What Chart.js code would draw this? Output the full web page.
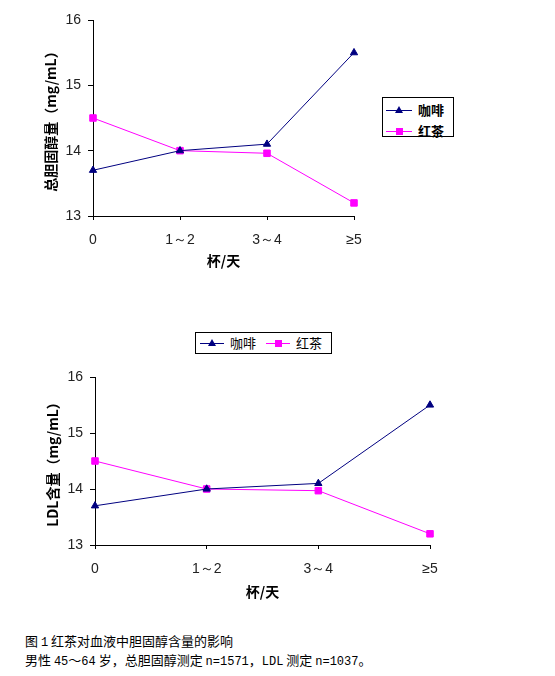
<!DOCTYPE html>
<html><head><meta charset="utf-8">
<script src="https://cdn.jsdelivr.net/npm/chart.js@4/dist/chart.umd.min.js"></script>
<style>
body{margin:0;background:#fff;width:555px;height:676px;position:relative;overflow:hidden;font-family:"Noto Sans CJK SC",sans-serif;color:#000;}
.abs{position:absolute;}
.legend{position:absolute;border:1px solid #000;background:#fff;box-sizing:border-box;}
.item{position:absolute;height:14px;}
.ln{position:absolute;height:1px;top:7px;}
.tri{position:absolute;width:0;height:0;border-left:4px solid transparent;border-right:4px solid transparent;border-bottom:7px solid #000080;}
.sq{position:absolute;width:7px;height:7px;background:#ff00ff;}
.lt{position:absolute;font-size:13px;line-height:14px;white-space:nowrap;}
.cap{position:absolute;left:25px;font-size:13px;line-height:16px;white-space:nowrap;}
.m{font-family:"Liberation Mono",monospace;font-size:12px;}
</style></head><body>
<div class="abs" style="left:0;top:0;width:380px;height:280px"><canvas id="chart1"></canvas></div>
<div class="abs" style="left:0;top:355px;width:460px;height:256px"><canvas id="chart2"></canvas></div>

<div class="legend" id="leg1" style="left:382px;top:97px;width:72px;height:40px;"></div>
<div class="legend" id="leg2" style="left:195px;top:332px;width:137px;height:22px;"></div>

<div class="cap" style="top:633px;">图 <span class="m">1</span> 红茶对血液中胆固醇含量的影响</div>
<div class="cap" style="top:652px;">男性 <span class="m">45</span>～<span class="m">64</span> 岁，总胆固醇测定 <span class="m">n=1571</span>，<span class="m">LDL</span> 测定 <span class="m">n=1037</span>。</div>

<script>
const categories = ['0', '1～2', '3～4', '≥5'];
const seriesNames = ['咖啡', '红茶'];
const coffeeTotal = [13.7, 14.0, 14.1, 15.5];
const teaTotal = [14.5, 14.0, 13.96, 13.2];
const coffeeLDL = [13.7, 14.0, 14.1, 15.5];
const teaLDL = [14.5, 14.0, 13.97, 13.2];
const yMin = 13, yMax = 16, yStep = 1;
const xTitle = '杯/天';
const yTitleTotal = '总胆固醇量（mg/mL）';
const yTitleLDL = 'LDL含量（mg/mL）';
const seriesColors = ['#000080', '#ff00ff'];

function buildChart(id, coffee, tea, yTitle, L) {
  return new Chart(document.getElementById(id), {
    type: 'line',
    data: {
      labels: categories,
      datasets: [
        {label: seriesNames[0], data: coffee, borderColor: seriesColors[0], backgroundColor: seriesColors[0],
         borderWidth: 1, pointStyle: 'triangle', pointRadius: 4.2, pointBorderWidth: 1, tension: 0, clip: false},
        {label: seriesNames[1], data: tea, borderColor: seriesColors[1], backgroundColor: seriesColors[1],
         borderWidth: 1, pointStyle: 'rect', pointRadius: 4.6, pointBorderWidth: 1, tension: 0, clip: false}
      ]
    },
    options: {
      responsive: true, maintainAspectRatio: false, animation: false,
      devicePixelRatio: 1,
      layout: {padding: {left: 0, right: L.padR, top: L.padT, bottom: 0}},
      plugins: {legend: {display: false}, tooltip: {enabled: false}},
      scales: {
        x: {
          offset: false,
          grid: {display: true, drawOnChartArea: false, drawTicks: true, tickLength: 4, color: '#000', offset: false},
          border: {color: '#000', width: 1},
          ticks: {padding: 12, color: '#222', font: {family: 'Liberation Sans', size: 14}, maxRotation: 0, autoSkip: false},
          title: {display: true, text: xTitle, color: '#000', font: {family: 'Noto Sans CJK SC', weight: 'bold', size: 14, lineHeight: 1.2}, padding: {top: 0, bottom: L.xTitlePad}},
          afterFit(s) { s.height = L.xH; }
        },
        y: {
          min: yMin, max: yMax,
          grid: {display: true, drawOnChartArea: false, drawTicks: true, tickLength: 5, color: '#000'},
          border: {color: '#000', width: 1},
          ticks: {stepSize: yStep, padding: L.yTickPad, color: '#222', font: {family: 'Liberation Sans', size: 14}},
          title: {display: true, text: yTitle, color: '#000', font: {family: 'Noto Sans CJK SC', weight: 'bold', size: 14, lineHeight: 1.2}, padding: {top: L.yTitlePad, bottom: 0}},
          afterFit(s) { s.width = L.yW; }
        }
      }
    }
  });
}

buildChart('chart1', coffeeTotal, teaTotal, yTitleTotal, {padR: 26, padT: 20, xH: 64, xTitlePad: 11, yW: 93, yTickPad: 7, yTitlePad: 42});
buildChart('chart2', coffeeLDL, teaLDL, yTitleLDL, {padR: 30, padT: 22, xH: 66, xTitlePad: 11, yW: 95, yTickPad: 7, yTitlePad: 44});

function legendItem(i, x, y, lineW, bold) {
  const markerLeft = lineW / 2 - 4;
  const mk = i === 0
    ? `<div class="tri" style="left:${markerLeft}px;top:3px"></div>`
    : `<div class="sq" style="left:${markerLeft + 0.5}px;top:4px"></div>`;
  return `<div class="item" style="left:${x}px;top:${y}px;width:${lineW + 40}px">
    <div class="ln" style="left:0;width:${lineW}px;background:${seriesColors[i]}"></div>${mk}
    <div class="lt" style="left:${lineW + 6}px;top:0;${bold ? 'font-weight:bold;' : ''}">${seriesNames[i]}</div></div>`;
}
document.getElementById('leg1').innerHTML = legendItem(0, 3, 5, 26, true) + legendItem(1, 3, 26, 26, true);
document.getElementById('leg2').innerHTML = legendItem(0, 4, 3, 24, false) + legendItem(1, 70, 3, 24, false);
</script>
</body></html>
